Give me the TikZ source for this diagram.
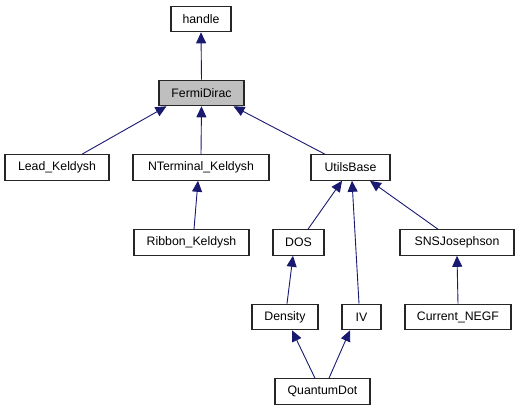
\documentclass[tikz,border=0pt]{standalone}
\usepackage{fontspec}
\setmainfont{Liberation Sans}
\usetikzlibrary{arrows.meta}
\begin{document}
\begin{tikzpicture}[x=1pt,y=-1pt,
  cls/.style={draw=black!85,line width=1.1pt,fill=white,inner sep=0pt,minimum height=25.5pt,font=\fontsize{12.3}{14}\selectfont},
  cur/.style={cls,fill=black!25},
  inh/.style={draw=blue!30!black!70!blue,color={rgb,255:red,25;green,25;blue,112},line width=0.9pt,-{Triangle[length=11pt,width=10pt]}}]
\useasboundingbox (0,0) rectangle (519,411);
\node[cls,minimum width=60pt] (handle) at (201,19) {handle};
\node[cur,minimum width=85pt] (fermi) at (201.5,93) {FermiDirac};
\node[cls,minimum width=104pt] (lead) at (57,167.5) {Lead\_Keldysh};
\node[cls,minimum width=136pt] (nterm) at (201,167.5) {NTerminal\_Keldysh};
\node[cls,minimum width=79pt] (utils) at (350.5,167.5) {UtilsBase};
\node[cls,minimum width=115pt] (ribbon) at (191.5,242.5) {Ribbon\_Keldysh};
\node[cls,minimum width=51pt] (dos) at (298.5,242.5) {DOS};
\node[cls,minimum width=114pt] (sns) at (457,242.5) {SNSJosephson};
\node[cls,minimum width=66pt] (density) at (285,317) {Density};
\node[cls,minimum width=39pt] (iv) at (361.5,317) {IV};
\node[cls,minimum width=106pt] (negf) at (458,317) {Current\_NEGF};
\node[cls,minimum width=95pt] (qdot) at (322.5,391.5) {QuantumDot};
\draw[inh] (fermi.north) -- (handle.south);
\draw[inh] ([xshift=25pt]lead.north) -- ([xshift=-35pt]fermi.south);
\draw[inh] (nterm.north) -- (fermi.south);
\draw[inh] ([xshift=-25.5pt]utils.north) -- ([xshift=32pt]fermi.south);
\draw[inh] ([xshift=2.5pt]ribbon.north) -- ([xshift=-3pt]nterm.south);
\draw[inh] ([xshift=9.5pt]dos.north) -- ([xshift=-8.5pt]utils.south);
\draw[inh] ([xshift=-2.5pt]iv.north) -- ([xshift=1.5pt]utils.south);
\draw[inh] ([xshift=-19pt]sns.north) -- ([xshift=19.5pt]utils.south);
\draw[inh] (negf.north) -- ([xshift=0pt]sns.south);
\draw[inh] ([xshift=2pt]density.north) -- ([xshift=-5.5pt]dos.south);
\draw[inh] ([xshift=-7.5pt]qdot.north) -- ([xshift=7pt]density.south);
\draw[inh] ([xshift=6.5pt]qdot.north) -- ([xshift=-11.5pt]iv.south);
\end{tikzpicture}
\end{document}
